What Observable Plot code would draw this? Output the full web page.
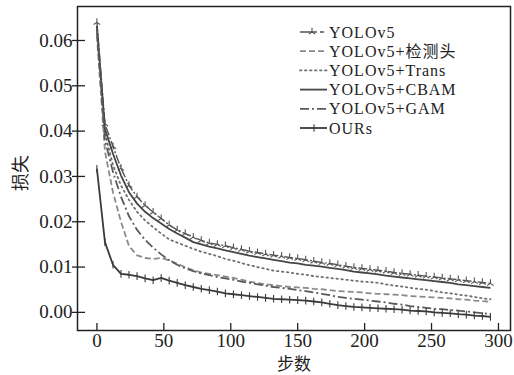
<!DOCTYPE html>
<html><head><meta charset="utf-8">
<script src="https://cdn.jsdelivr.net/npm/d3@7"></script>
<script src="https://cdn.jsdelivr.net/npm/@observablehq/plot@0.6"></script>
<style>body{margin:0;background:#fff} #chart{width:514px;height:375px}</style>
</head><body><div id="chart"></div><script>
const steps = [0,6,12,18,24,30,36,42,48,54,60,66,72,78,84,90,96,102,108,114,120,126,132,138,144,150,156,162,168,174,180,186,192,198,204,210,216,222,228,234,240,246,252,258,264,270,276,282,288,294];
const seriesNames = ["YOLOv5","YOLOv5+检测头","YOLOv5+Trans","YOLOv5+CBAM","YOLOv5+GAM","OURs"];
const yolov5 = [0.0640,0.0416,0.0366,0.0318,0.0280,0.0255,0.0236,0.0221,0.0207,0.0193,0.0182,0.0174,0.0166,0.0159,0.0153,0.0150,0.0147,0.0143,0.0139,0.0135,0.0132,0.0129,0.0126,0.0124,0.0121,0.0119,0.0116,0.0113,0.0110,0.0108,0.0105,0.0102,0.0099,0.0097,0.0095,0.0093,0.0091,0.0088,0.0086,0.0084,0.0082,0.0080,0.0078,0.0076,0.0074,0.0072,0.0070,0.0068,0.0066,0.0064];
const yolov5Head = [0.0610,0.0355,0.0265,0.0200,0.0146,0.0126,0.0120,0.0118,0.0120,0.0115,0.0107,0.0100,0.0093,0.0088,0.0085,0.0082,0.0079,0.0076,0.0072,0.0068,0.0065,0.0062,0.0060,0.0058,0.0056,0.0055,0.0054,0.0052,0.0051,0.0049,0.0047,0.0046,0.0045,0.0044,0.0042,0.0041,0.0040,0.0039,0.0038,0.0036,0.0035,0.0034,0.0033,0.0032,0.0031,0.0029,0.0028,0.0026,0.0025,0.0023];
const yolov5Trans = [0.0625,0.0395,0.0325,0.0280,0.0248,0.0222,0.0203,0.0188,0.0174,0.0161,0.0154,0.0147,0.0140,0.0134,0.0129,0.0124,0.0118,0.0114,0.0109,0.0104,0.0100,0.0096,0.0092,0.0090,0.0088,0.0085,0.0083,0.0080,0.0078,0.0076,0.0074,0.0072,0.0070,0.0068,0.0067,0.0065,0.0062,0.0059,0.0057,0.0054,0.0052,0.0050,0.0047,0.0044,0.0042,0.0039,0.0037,0.0034,0.0031,0.0029];
const yolov5Cbam = [0.0632,0.0405,0.0350,0.0302,0.0265,0.0240,0.0222,0.0208,0.0196,0.0184,0.0174,0.0165,0.0155,0.0150,0.0145,0.0141,0.0137,0.0133,0.0129,0.0125,0.0122,0.0119,0.0116,0.0113,0.0110,0.0108,0.0105,0.0103,0.0101,0.0098,0.0096,0.0093,0.0090,0.0088,0.0086,0.0084,0.0081,0.0079,0.0077,0.0075,0.0073,0.0071,0.0069,0.0067,0.0065,0.0062,0.0060,0.0058,0.0056,0.0054];
const yolov5Gam = [0.0625,0.0380,0.0310,0.0255,0.0212,0.0182,0.0160,0.0143,0.0128,0.0115,0.0105,0.0097,0.0091,0.0086,0.0082,0.0078,0.0075,0.0072,0.0068,0.0065,0.0062,0.0059,0.0056,0.0054,0.0052,0.0049,0.0047,0.0044,0.0041,0.0038,0.0034,0.0032,0.0030,0.0028,0.0026,0.0024,0.0022,0.0019,0.0017,0.0014,0.0012,0.0010,0.0008,0.0007,0.0005,0.0004,0.0002,0.0000,-0.0002,-0.0003];
const ours = [0.0317,0.0155,0.0105,0.0085,0.0083,0.0080,0.0075,0.0071,0.0076,0.0070,0.0065,0.0060,0.0056,0.0052,0.0049,0.0046,0.0042,0.0040,0.0038,0.0036,0.0034,0.0032,0.0030,0.0029,0.0028,0.0027,0.0026,0.0024,0.0022,0.0019,0.0016,0.0014,0.0012,0.0011,0.0010,0.0009,0.0008,0.0007,0.0006,0.0004,0.0003,0.0002,0.0000,-0.0001,-0.0002,-0.0004,-0.0005,-0.0007,-0.0008,-0.0010];
const xTicks = [0,50,100,150,200,250,300];
const yTicks = [0,0.01,0.02,0.03,0.04,0.05,0.06];
const xLabel = "步数";
const yLabel = "损失";

const allValues = [yolov5, yolov5Head, yolov5Trans, yolov5Cbam, yolov5Gam, ours];
const data = [];
allValues.forEach((vals, i) => vals.forEach((v, j) => data.push({series: seriesNames[i], step: steps[j], loss: v})));

const styles = {
  "YOLOv5":        {stroke: "#555", width: 1.4, dash: "9,2,2,2", marker: "tri"},
  "YOLOv5+检测头": {stroke: "#8a8a8a", width: 1.8, dash: "6,3"},
  "YOLOv5+Trans":  {stroke: "#6f6f6f", width: 1.8, dash: "1.5,3.5"},
  "YOLOv5+CBAM":   {stroke: "#454545", width: 1.8, dash: null},
  "YOLOv5+GAM":    {stroke: "#5a5a5a", width: 1.8, dash: "9,3,2,3"},
  "OURs":          {stroke: "#3a3a3a", width: 1.8, dash: null, marker: "bar"}
};
const triUp = {draw(ctx, size) { const r = Math.sqrt(size / Math.PI);
  ctx.moveTo(0, 0); ctx.lineTo(0, -r*1.1); ctx.moveTo(0, 0); ctx.lineTo(-r*0.85, r*0.55); ctx.moveTo(0, 0); ctx.lineTo(r*0.85, r*0.55); }};
const vBar = {draw(ctx, size) { const r = Math.sqrt(size / Math.PI); ctx.moveTo(0, -r); ctx.lineTo(0, r); }};
const symbols = {tri: triUp, bar: vBar};

const marks = [];
for (const name of seriesNames) {
  const s = styles[name];
  marks.push(Plot.line(data, {filter: d => d.series === name, x: "step", y: "loss", stroke: s.stroke, strokeWidth: s.width, strokeDasharray: s.dash, strokeLinecap: s.dash && s.dash.startsWith("1.5") ? "round" : "butt"}));
  if (s.marker) marks.push(Plot.dot(data, {filter: d => d.series === name, x: "step", y: "loss", symbol: symbols[s.marker], r: 3.8, stroke: s.stroke, strokeWidth: 1.1, fill: "none"}));
}

const chart = Plot.plot({
  width: 514, height: 375,
  marginLeft: 77, marginRight: 4, marginTop: 6, marginBottom: 45,
  style: {fontFamily: "'Liberation Serif', 'Times New Roman', serif", fontSize: "19px", background: "#fff", color: "#222"},
  x: {domain: [-14.5, 309], label: null},
  y: {domain: [-0.004, 0.0675], label: null},
  marks: [
    ...marks,
    Plot.axisX({ticks: xTicks, tickSize: -7, tickFormat: () => "", stroke: "#222", strokeWidth: 1.3}),
    Plot.axisX({ticks: xTicks, tickSize: 0, tickPadding: 3, tickFormat: d => String(d), fill: "#222"}),
    Plot.axisY({ticks: yTicks, tickSize: -8, tickFormat: () => "", stroke: "#222", strokeWidth: 1.3}),
    Plot.axisY({ticks: yTicks, tickSize: 5, tickPadding: 0, tickFormat: d => d.toFixed(2), fill: "#222", stroke: "#222", strokeWidth: 1.3}),
    Plot.frame({stroke: "#222", strokeWidth: 1.5})
  ]
});
document.getElementById("chart").appendChild(chart);

const svg = d3.select(chart);
const cjk = "'Noto Sans CJK SC', sans-serif";
svg.append("text").attr("x", 294).attr("y", 362).attr("text-anchor", "middle").attr("dominant-baseline", "central")
  .attr("font-family", cjk).attr("font-size", 17).attr("fill", "#222").text(xLabel);
svg.append("text").attr("transform", "translate(19,173) rotate(-90)").attr("text-anchor", "middle").attr("dominant-baseline", "central")
  .attr("font-family", cjk).attr("font-size", 18).attr("fill", "#222").text(yLabel);

const leg = svg.append("g");
seriesNames.forEach((name, i) => {
  const s = styles[name];
  const y = 32 + i * 19.2;
  const g = leg.append("g").attr("transform", `translate(300,${y})`);
  g.append("line").attr("x1", 0).attr("x2", 27).attr("y1", 0).attr("y2", 0)
    .attr("stroke", s.stroke).attr("stroke-width", s.width)
    .attr("stroke-dasharray", s.marker === "tri" ? "17,3,4,3" : s.dash)
    .attr("stroke-linecap", s.dash && s.dash.startsWith("1.5") ? "round" : "butt");
  if (s.marker) {
    const path = d3.path(); symbols[s.marker].draw(path, Math.PI * 3.8 * 3.8);
    g.append("path").attr("d", path.toString()).attr("transform", `translate(${s.marker === "tri" ? 12 : 14},0)`)
      .attr("stroke", s.stroke).attr("stroke-width", 1.1).attr("fill", "none");
  }
  g.append("text").attr("x", 29).attr("y", 0).attr("dominant-baseline", "central").attr("text-anchor", "start")
    .attr("font-family", "'Liberation Serif', 'Noto Sans CJK SC', serif").attr("font-size", 16).attr("letter-spacing", 1)
    .attr("fill", "#222").text(name);
});
</script></body></html>
